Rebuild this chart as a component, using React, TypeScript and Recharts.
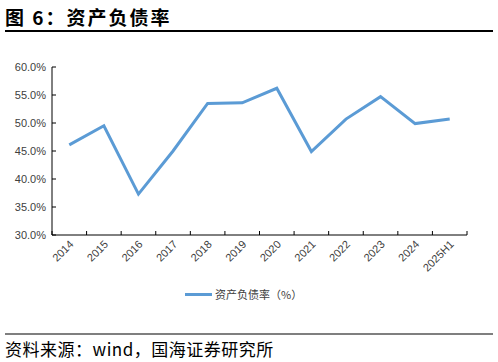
import React from "react";
import { LineChart, Line, XAxis, YAxis } from "recharts";

const years = ["2014", "2015", "2016", "2017", "2018", "2019", "2020", "2021", "2022", "2023", "2024", "2025H1"];
const debtRatio = [46.1, 49.5, 37.3, 45.0, 53.5, 53.6, 56.2, 44.9, 50.7, 54.7, 49.9, 50.7];
const yTicks = [30, 35, 40, 45, 50, 55, 60];
const seriesName = "资产负债率（%）";

const data = years.map((year, i) => ({ year, ratio: debtRatio[i] }));

const BLUE = "#5B9BD5";
const LABEL = "#404040";

const XTick = (props: any) => {
  const { x, y, payload, index, visibleTicksCount } = props;
  const off = payload.offset ?? 0;
  const left = payload.coordinate - off;
  const isLast = index === visibleTicksCount - 1;
  return (
    <g>
      <line x1={left} x2={left} y1={y} y2={y - 4} stroke="#000" />
      {isLast && <line x1={payload.coordinate + off} x2={payload.coordinate + off} y1={y} y2={y - 4} stroke="#000" />}
      <text
        x={x + 5}
        y={y + 10}
        textAnchor="end"
        fill={LABEL}
        fontSize={11}
        fontFamily="Liberation Sans, Arial, sans-serif"
        transform={`rotate(-45, ${x + 5}, ${y + 10})`}
      >
        {payload.value}
      </text>
    </g>
  );
};

const App: React.FC = () => (
  <div style={{ position: "absolute", left: 0, top: 0, width: 498, height: 362, background: "#fff", overflow: "hidden" }}>
    <div style={{ position: "absolute", left: 5, top: 3, fontSize: 19, fontWeight: 700, fontFamily: "Noto Sans CJK SC, sans-serif", color: "#000", letterSpacing: 2 }}>
      图 6：资产负债率
    </div>
    <div style={{ position: "absolute", left: 5, top: 30, width: 488, height: 2, background: "#000" }} />
    <div style={{ position: "absolute", left: 0, top: 0 }}>
      <LineChart width={498} height={275} data={data} margin={{ top: 67, right: 31, left: 0, bottom: 0 }}>
        <XAxis
          dataKey="year"
          scale="band"
          height={40}
          axisLine={{ stroke: "#000" }}
          tickLine={false}
          tickSize={0}
          tickMargin={0}
          interval={0}
          tick={<XTick />}
        />
        <YAxis
          width={52}
          domain={[30, 60]}
          ticks={yTicks}
          interval={0}
          axisLine={{ stroke: "#000" }}
          tickLine={{ stroke: "#000" }}
          tickSize={-4}
          tickMargin={10}
          tick={{ fill: LABEL, fontSize: 11, fontFamily: "Liberation Sans, Arial, sans-serif" }}
          tickFormatter={(v: number) => `${v.toFixed(1)}%`}
        />
        <Line dataKey="ratio" name={seriesName} stroke={BLUE} strokeWidth={3} dot={false} isAnimationActive={false} />
      </LineChart>
    </div>
    <div style={{ position: "absolute", left: 185, top: 286, display: "flex", alignItems: "center" }}>
      <span style={{ display: "inline-block", width: 27, height: 3, background: BLUE, marginRight: 3 }} />
      <span style={{ fontSize: 11, color: LABEL, fontFamily: "Noto Sans CJK SC, sans-serif" }}>{seriesName}</span>
    </div>
    <div style={{ position: "absolute", left: 5, top: 333, width: 488, height: 2, background: "#7f7f7f" }} />
    <div style={{ position: "absolute", left: 5, top: 336, fontSize: 17, fontFamily: "Noto Sans CJK SC, sans-serif", color: "#000", letterSpacing: 0.5 }}>
      资料来源：wind，国海证券研究所
    </div>
  </div>
);

export default App;
